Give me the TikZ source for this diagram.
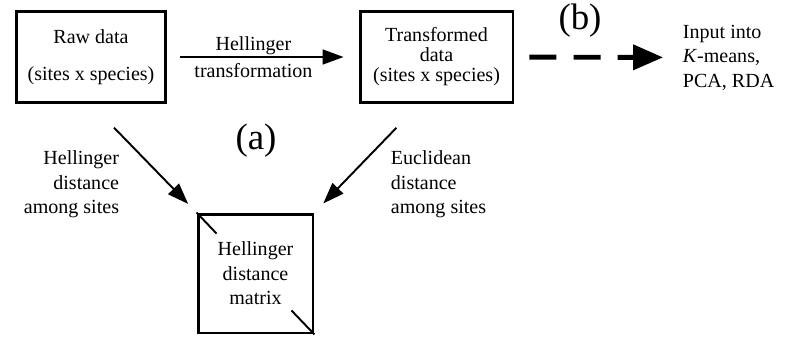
\documentclass[tikz,border=0pt]{standalone}
\usepackage{fontspec}
\setmainfont{Liberation Serif}
\usetikzlibrary{arrows.meta}

\begin{document}
\begin{tikzpicture}[->,>={Triangle[length=12pt,width=8.5pt]},x=0.02cm,y=-0.02cm,
                    line width=1.1pt,font=\fontsize{11.4}{13.9}\selectfont,
                    box node/.style={rectangle,draw,line width=1.7pt,align=center},
                    text node/.style={inner sep=0pt},
                    big label/.style={font=\fontsize{21}{25}\selectfont}]

  \useasboundingbox (0,0) rectangle (786,338);

  \node[box node,minimum width=3cm,minimum height=1.82cm] (1) at (91,57) {Raw data\\[7pt](sites x species)};
  \node[box node,minimum width=3.06cm,minimum height=1.82cm] (2) at (436.5,57) {Transformed\\[-2.5pt]data\\[-2.5pt](sites x species)};
  \node[box node,minimum width=2.3cm,minimum height=2.38cm] (3) at (255.5,273.5) {Hellinger\\distance\\matrix};
  \node[text node,anchor=west,align=left] (4) at (682,57.5) {Input into\\\textit{K}-means,\\PCA, RDA};

  \node[text node,anchor=east,align=right] (5) at (120,184.5) {Hellinger\\distance\\among sites};
  \node[text node,anchor=west,align=left] (6) at (390,184.5) {Euclidean\\distance\\among sites};
  \node[big label] (a) at (256,141) {(a)};
  \node[big label] (b) at (580,21) {(b)};

  % corner ticks of the matrix
  \draw[-] (3.north west) -- ++(20,21);
  \draw[-] (3.south east) -- ++(-23,-24);

  \path
    (1) edge [shorten <=7.4pt,shorten >=8.5pt] node[pos=0.45,align=center] {Hellinger\\[1.5pt]transformation} (2)
    (1.south) edge [shorten <=18.8pt,shorten >=6.8pt] (3.north west)
    (2.250) edge [shorten <=18.8pt,shorten >=7.2pt] (3.north east)

    (2) edge [dash pattern=on 15.4pt off 9.7pt,line width=2.8pt,>={Triangle[length=17pt,width=14pt]},
              shorten <=8.5pt,shorten >=10.8pt] (4)
;
\end{tikzpicture}
\end{document}
